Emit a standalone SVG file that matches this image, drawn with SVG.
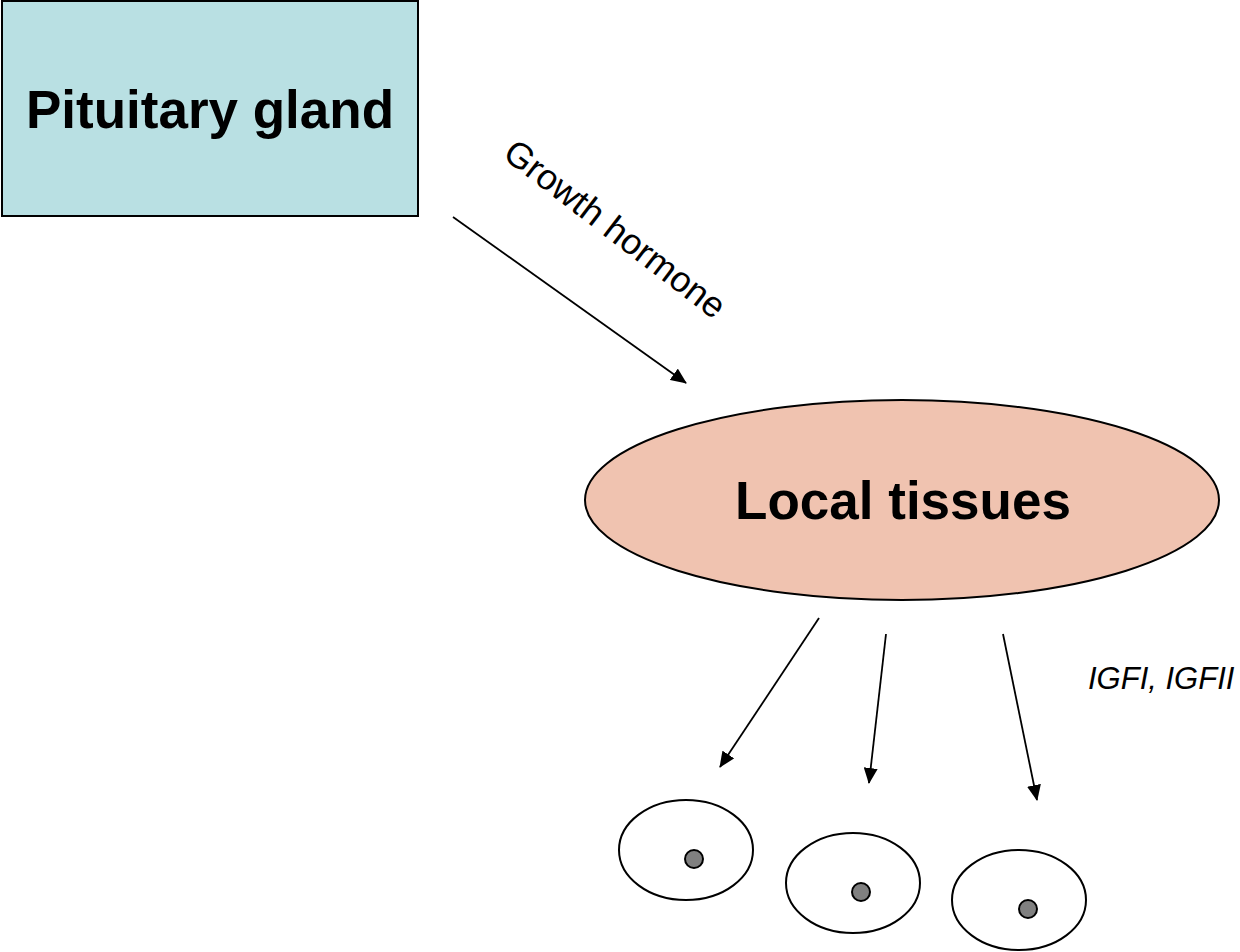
<svg xmlns="http://www.w3.org/2000/svg" width="1240" height="952" viewBox="0 0 1240 952">
<defs>
<style>
.lbl{font-family:"Liberation Sans",Arial,sans-serif;fill:#000}
.big{font-size:53px;font-weight:bold;text-anchor:middle}
.cell{fill:#fff;stroke:#000;stroke-width:2}
.nuc{fill:#808080;stroke:#000;stroke-width:2}
.conn line{stroke:#000;stroke-width:1.8;marker-end:url(#ah)}
</style>
<marker id="ah" markerWidth="16" markerHeight="14" refX="15" refY="7" orient="auto" markerUnits="userSpaceOnUse" viewBox="0 0 16 14">
<path d="M0,0 L16,7 L0,14 z" fill="#000"/>
</marker>
</defs>
<rect width="1240" height="952" fill="#fff"/>
<g id="pituitary">
<rect x="2" y="1" width="416" height="215" fill="#B9E0E3" stroke="#000" stroke-width="2"/>
<text class="lbl big" x="210" y="128">Pituitary gland</text>
</g>
<g id="local-tissues">
<ellipse cx="902" cy="500" rx="317" ry="100" fill="#F0C3B0" stroke="#000" stroke-width="2"/>
<text class="lbl big" x="903" y="519">Local tissues</text>
</g>
<g id="cell1">
<ellipse class="cell" cx="686" cy="850" rx="67" ry="50"/>
<circle class="nuc" cx="694" cy="859" r="9"/>
</g>
<g id="cell2">
<ellipse class="cell" cx="853" cy="883" rx="67" ry="50"/>
<circle class="nuc" cx="861" cy="892" r="9"/>
</g>
<g id="cell3">
<ellipse class="cell" cx="1019" cy="900" rx="67" ry="50"/>
<circle class="nuc" cx="1028" cy="909" r="9"/>
</g>
<g id="connectors" class="conn">
<line x1="453" y1="217" x2="686" y2="383"/>
<line x1="819" y1="618" x2="720" y2="767"/>
<line x1="886" y1="634" x2="869" y2="783"/>
<line x1="1003" y1="634" x2="1037" y2="800"/>
</g>
<g id="labels">
<text class="lbl" font-size="36" text-anchor="middle" transform="translate(615,229) rotate(37.5)" y="12">Growth hormone</text>
<text class="lbl" font-size="31" font-style="italic" x="1088" y="689">IGFI, IGFII</text>
</g>
</svg>
